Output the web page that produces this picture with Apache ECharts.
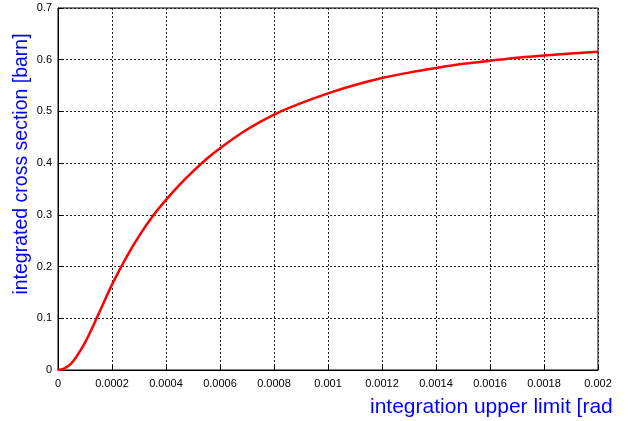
<!DOCTYPE html>
<html>
<head>
<meta charset="utf-8">
<script src="https://cdn.jsdelivr.net/npm/echarts@6/dist/echarts.min.js"></script>
<style>
html,body{margin:0;padding:0;background:#fff;}
#chart{width:629px;height:421px;}
</style>
</head>
<body>
<div id="chart"></div>
<script>
// Data
const xValues = [0, 0.00002, 0.00005, 0.0001, 0.00015, 0.0002, 0.00025, 0.0003, 0.00035, 0.0004, 0.00045, 0.0005, 0.00055, 0.0006, 0.0007, 0.0008, 0.0009, 0.001, 0.0011, 0.0012, 0.0013, 0.0014, 0.0015, 0.0016, 0.0017, 0.0018, 0.0019, 0.002];
const yValues = [0, 0.002, 0.013, 0.053, 0.108, 0.165, 0.215, 0.259, 0.297, 0.329, 0.358, 0.384, 0.408, 0.429, 0.465, 0.494, 0.516, 0.535, 0.551, 0.5645, 0.575, 0.584, 0.592, 0.598, 0.604, 0.608, 0.612, 0.6155];
const xTickLabels = ['0', '0.0002', '0.0004', '0.0006', '0.0008', '0.001', '0.0012', '0.0014', '0.0016', '0.0018', '0.002'];
const yTickLabels = ['0', '0.1', '0.2', '0.3', '0.4', '0.5', '0.6', '0.7'];
const xTitle = 'integration upper limit [rad';
const yTitle = 'integrated cross section [barn]';

const chart = echarts.init(document.getElementById('chart'), null, {renderer: 'canvas'});
const font = 'Liberation Sans, Arial, Helvetica, sans-serif';
const gridLine = {show: true, lineStyle: {color: '#222', width: 1, type: [2, 2]}};

chart.setOption({
  animation: false,
  grid: {left: 58, right: 31, top: 8, bottom: 51, show: true, borderColor: '#000', borderWidth: 1},
  xAxis: {
    type: 'value', min: 0, max: 0.002, interval: 0.0002,
    axisLine: {lineStyle: {color: '#000', width: 1}},
    axisTick: {inside: true, length: 5, lineStyle: {color: '#000'}},
    splitLine: gridLine,
    axisLabel: {color: '#000', fontSize: 11, fontFamily: font, margin: 8,
      formatter: v => xTickLabels[Math.round(v / 0.0002)]}
  },
  yAxis: {
    type: 'value', min: 0, max: 0.7, interval: 0.1,
    axisLine: {lineStyle: {color: '#000', width: 1}},
    axisTick: {inside: true, length: 5, lineStyle: {color: '#000'}},
    splitLine: gridLine,
    axisLabel: {color: '#000', fontSize: 11, fontFamily: font, margin: 6,
      formatter: v => yTickLabels[Math.round(v / 0.1)]}
  },
  series: [{
    type: 'line',
    data: xValues.map((x, i) => [x, yValues[i]]),
    showSymbol: false,
    smooth: 0.3,
    lineStyle: {color: '#ff0000', width: 2.5},
    itemStyle: {color: '#ff0000'}
  }],
  graphic: [
    {type: 'text', left: 370, top: 397,
      style: {text: xTitle, fill: '#0000ff', font: '21px ' + font}},
    {type: 'text', x: 22, y: 164, rotation: Math.PI / 2,
      style: {text: yTitle, fill: '#0000ff', font: '19.5px ' + font, align: 'center', verticalAlign: 'middle'}}
  ]
});
</script>
</body>
</html>
